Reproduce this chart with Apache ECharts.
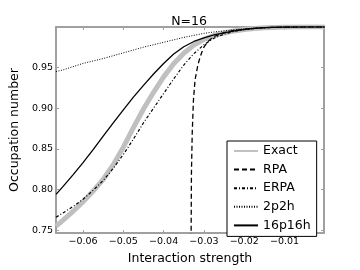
<!DOCTYPE html>
<html><head><meta charset="utf-8">
<script src="https://cdn.jsdelivr.net/npm/echarts@6/dist/echarts.min.js"></script>
<style>html,body{margin:0;padding:0;background:#fff}#c{width:360px;height:270px}</style>
</head><body><div id="c"></div>
<script>
const xGrid = [-0.0667,-0.065,-0.0625,-0.06,-0.0575,-0.055,-0.0525,-0.05,-0.0475,-0.045,-0.0425,-0.04,-0.0375,-0.035,-0.0325,-0.03,-0.0275,-0.025,-0.0225,-0.02,-0.0175,-0.015,-0.0125,-0.01,-0.005,0];
const exactVals = [0.755,0.762,0.773,0.785,0.798,0.8125,0.8305,0.852,0.876,0.899,0.9195,0.9385,0.9545,0.9675,0.9775,0.9845,0.9893,0.9925,0.995,0.9967,0.998,0.9988,0.9993,0.9997,1.0,1.0];
const erpaVals  = [0.766,0.771,0.779,0.788,0.799,0.811,0.826,0.843,0.862,0.882,0.900,0.918,0.936,0.953,0.967,0.978,0.986,0.991,0.9945,0.9965,0.998,0.9988,0.9993,0.9997,1.0,1.0];
const p2h2Vals  = [0.945,0.947,0.951,0.955,0.958,0.961,0.9645,0.968,0.9715,0.975,0.978,0.981,0.984,0.987,0.9895,0.992,0.9937,0.995,0.9965,0.9975,0.9985,0.999,0.9995,0.9997,1.0,1.0];
const p16Vals   = [0.794,0.8035,0.818,0.833,0.849,0.8655,0.882,0.898,0.9135,0.928,0.942,0.955,0.9665,0.9755,0.982,0.9865,0.990,0.9927,0.995,0.9968,0.998,0.999,0.9995,0.9998,1.0,1.0];
const rpaX = [-0.03322,-0.0331,-0.0329,-0.0326,-0.0322,-0.0315,-0.031,-0.0305,-0.03,-0.029,-0.0275,-0.025,-0.0225,-0.02,-0.0175,-0.015,-0.0125,-0.01,-0.005,0];
const rpaVals = [0.70,0.82,0.87,0.91,0.935,0.953,0.962,0.969,0.975,0.982,0.988,0.993,0.9955,0.997,0.998,0.999,0.9995,0.9998,1.0,1.0];
const xTicks = [-0.06,-0.05,-0.04,-0.03,-0.02,-0.01];
const yTicks = [0.75,0.80,0.85,0.90,0.95];
const names = ['Exact','RPA','ERPA','2p2h','16p16h'];

const zip = (xs, ys) => xs.map((x,i)=>[x, ys[i]]);
const FONT = 'DejaVu Sans';
const frame = '#a0a0a0';
const xMin=-0.0667, xMax=-0.0002, yMin=0.7465, yMax=0.9998;

const baseX = {type:'value', min:xMin, max:xMax,
  axisLine:{show:true,onZero:false,lineStyle:{color:frame,width:2}},
  splitLine:{show:false}};
const baseY = {type:'value', min:yMin, max:yMax,
  axisLine:{show:true,onZero:false,lineStyle:{color:frame,width:2}},
  splitLine:{show:false}};

const chart = echarts.init(document.getElementById('c'));
chart.setOption({
  animation:false,
  backgroundColor:'#fff',
  title:{text:'N=16', left:184, top:10, textAlign:'center',
    textStyle:{fontFamily:FONT,fontSize:12.5,fontWeight:'normal',color:'#000'}},
  grid:{left:45,right:36,top:27,bottom:28},
  legend:{
    orient:'vertical', left:227, top:141,
    padding:[3,6,4,6], itemWidth:24, itemHeight:14, itemGap:4.6, itemTextGap:11,
    backgroundColor:'#fff', borderColor:'#000', borderWidth:1, borderRadius:0,
    itemStyle:{opacity:0, borderWidth:0},
    textStyle:{fontFamily:FONT,fontSize:12.5,color:'#000',lineHeight:14},
    data:names
  },
  xAxis:[
    Object.assign({}, baseX, {position:'bottom',
      name:'Interaction strength', nameLocation:'middle', nameGap:19,
      nameTextStyle:{fontFamily:FONT,fontSize:12.5,color:'#000'},
      axisTick:{show:true,inside:true,length:3,customValues:xTicks,lineStyle:{color:frame}},
      axisLabel:{show:true,margin:4,customValues:xTicks,fontFamily:FONT,fontSize:9.5,color:'#000',
        formatter:v=>v.toFixed(2).replace('-','\u2212')}}),
    Object.assign({}, baseX, {position:'top',
      axisTick:{show:true,inside:true,length:3,customValues:xTicks,lineStyle:{color:frame}},
      axisLabel:{show:false}})
  ],
  yAxis:[
    Object.assign({}, baseY, {position:'left',
      name:'Occupation number', nameLocation:'middle', nameGap:34, nameRotate:90,
      nameTextStyle:{fontFamily:FONT,fontSize:12.5,color:'#000'},
      axisTick:{show:true,inside:true,length:3,customValues:yTicks,lineStyle:{color:frame}},
      axisLabel:{show:true,margin:3,customValues:yTicks,fontFamily:FONT,fontSize:9.5,color:'#000',
        formatter:v=>v.toFixed(2)}}),
    Object.assign({}, baseY, {position:'right',
      axisTick:{show:true,inside:true,length:3,customValues:yTicks,lineStyle:{color:frame}},
      axisLabel:{show:false}})
  ],
  series:[
    {name:'Exact', type:'line', data:zip(xGrid, exactVals), symbol:'none', smooth:false,
     clip:true, z:1, lineStyle:{color:'#c0c0c0',width:5}, itemStyle:{color:'#c0c0c0'}},
    {name:'RPA', type:'line', data:zip(rpaX, rpaVals), symbol:'none', smooth:false,
     clip:true, z:3, lineStyle:{color:'#000',width:1.3,type:[5,3]}, itemStyle:{color:'#000'}},
    {name:'ERPA', type:'line', data:zip(xGrid, erpaVals), symbol:'none', smooth:false,
     clip:true, z:3, lineStyle:{color:'#000',width:1.2,type:[3,2,1,2]}, itemStyle:{color:'#000'}},
    {name:'2p2h', type:'line', data:zip(xGrid, p2h2Vals), symbol:'none', smooth:false,
     clip:true, z:3, lineStyle:{color:'#000',width:1,type:[1,1.5]}, itemStyle:{color:'#000'}},
    {name:'16p16h', type:'line', data:zip(xGrid, p16Vals), symbol:'none', smooth:false,
     clip:true, z:3, lineStyle:{color:'#000',width:1.3}, itemStyle:{color:'#000'}}
  ]
});
</script></body></html>
